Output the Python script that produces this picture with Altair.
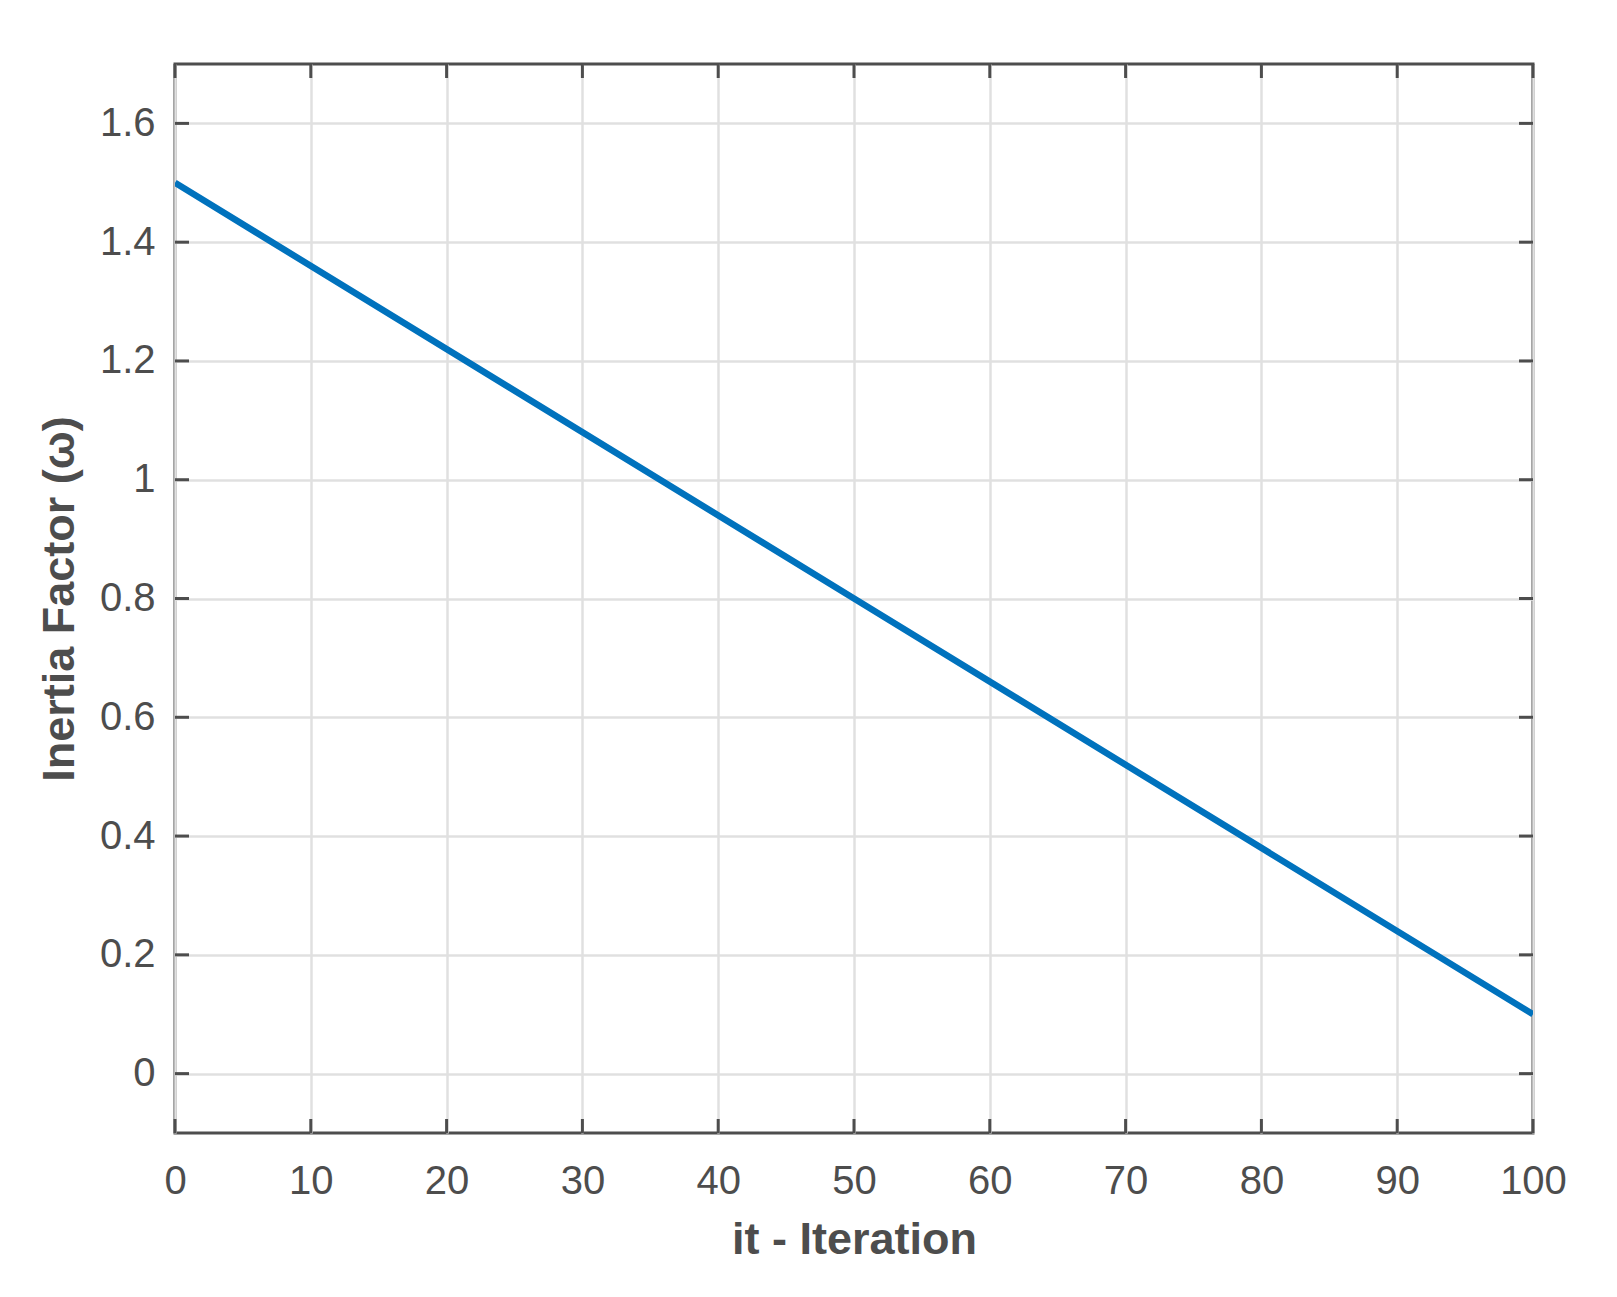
import altair as alt
import pandas as pd

# Data
iterations = [0, 50, 100]
inertia = [1.5, 0.8, 0.1]
x_ticks = [0, 10, 20, 30, 40, 50, 60, 70, 80, 90, 100]
y_ticks = [0, 0.2, 0.4, 0.6, 0.8, 1, 1.2, 1.4, 1.6]

W, H = 1358, 1069
AX = "#4d4d4d"
FONT = "Liberation Sans"

line_df = pd.DataFrame({"it": iterations, "w": inertia})
xt_df = pd.DataFrame({"t": x_ticks})
yt_df = pd.DataFrame({"t": y_ticks})

xscale = alt.Scale(domain=[0, 100], nice=False, zero=False)
yscale = alt.Scale(domain=[-0.1, 1.7], nice=False, zero=False)

xaxis = alt.Axis(
    values=x_ticks, format="d", grid=True, gridColor="#e0e0e0", gridWidth=2.5,
    ticks=False, tickSize=0, domain=False,
    labelFont=FONT, labelFontSize=40, labelColor=AX, labelPadding=60,
    labelBaseline="alphabetic", labelFlush=False,
    title="it - Iteration", titleFont=FONT, titleFontSize=45, titleFontWeight="bold",
    titleColor=AX, titleY=120, titleBaseline="alphabetic",
)
yaxis = alt.Axis(
    values=y_ticks, format="~g", grid=True, gridColor="#e0e0e0", gridWidth=2.5,
    ticks=False, tickSize=0, domain=False,
    labelFont=FONT, labelFontSize=40, labelColor=AX, labelPadding=20,
    labelAlign="right", labelBaseline="middle", labelFlush=False,
    title="Inertia Factor (ω)", titleFont=FONT, titleFontSize=45, titleFontWeight="bold",
    titleColor=AX, titleX=-102, titleBaseline="alphabetic", titleAngle=270,
)

line = alt.Chart(line_df).mark_line(color="#0072BD", strokeWidth=6.5, clip=True).encode(
    x=alt.X("it:Q", scale=xscale, axis=xaxis),
    y=alt.Y("w:Q", scale=yscale, axis=yaxis),
)

tick_len = 14
xt_bottom = alt.Chart(xt_df).mark_rule(color=AX, strokeWidth=3).encode(
    x=alt.X("t:Q", scale=xscale), y=alt.value(H), y2=alt.value(H - tick_len)
)
xt_top = alt.Chart(xt_df).mark_rule(color=AX, strokeWidth=3).encode(
    x=alt.X("t:Q", scale=xscale), y=alt.value(0), y2=alt.value(tick_len)
)
yt_left = alt.Chart(yt_df).mark_rule(color=AX, strokeWidth=3).encode(
    y=alt.Y("t:Q", scale=yscale), x=alt.value(0), x2=alt.value(tick_len)
)
yt_right = alt.Chart(yt_df).mark_rule(color=AX, strokeWidth=3).encode(
    y=alt.Y("t:Q", scale=yscale), x=alt.value(W - tick_len), x2=alt.value(W)
)

chart = alt.layer(line, xt_bottom, xt_top, yt_left, yt_right).properties(
    width=W, height=H,
    autosize=alt.AutoSizeParams(type="none"),
    padding={"left": 167, "top": 56, "right": 70, "bottom": 140},
    background="white",
).configure_view(stroke=AX, strokeWidth=3)

chart.save("out.html", embed_options={"renderer": "svg", "actions": False})
